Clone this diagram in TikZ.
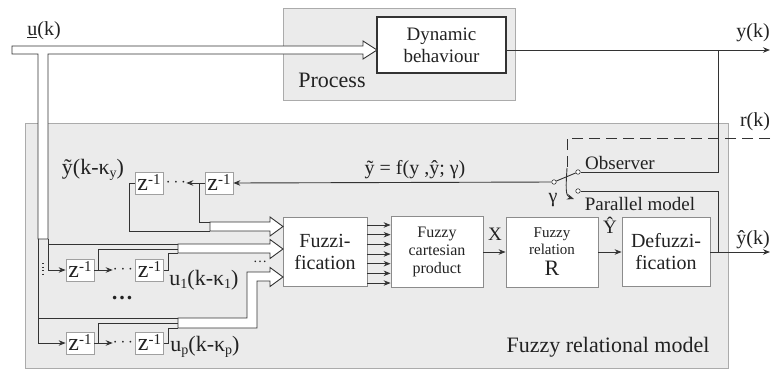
\documentclass[tikz,border=0pt]{standalone}
\usepackage{fontspec}
\setmainfont{Liberation Serif}
\usetikzlibrary{arrows.meta,calc}
\definecolor{ln}{HTML}{333333}
\definecolor{txt}{HTML}{222222}
\definecolor{gfill}{HTML}{EBEBEB}
\definecolor{gline}{HTML}{ABABAB}
\definecolor{bline}{HTML}{8C8C8C}
\definecolor{zline}{HTML}{A0A0A0}
\newcommand\mysub[1]{\raisebox{-0.35ex}{\fontsize{14}{14}\selectfont #1}}
\newcommand\mysup[1]{\raisebox{0.55ex}{\fontsize{15}{15}\selectfont #1}}
\begin{document}
\begin{tikzpicture}[x=1pt,y=-1pt,
  graybox/.style={draw=gline, fill=gfill, line width=0.8pt, anchor=north west, inner sep=0pt},
  wbox/.style={draw=bline, fill=white, line width=0.8pt, align=center, inner sep=0pt, text=txt},
  zbox/.style={draw=zline, fill=white, line width=0.7pt, minimum width=28pt, minimum height=22pt, inner sep=0pt, text=txt, font=\fontsize{24}{24}\selectfont},
  wire/.style={draw=ln, line width=0.9pt},
  arr/.style={wire, -{Stealth[length=7pt,width=5.5pt]}},
  bus/.style={draw=ln, fill=white, line width=0.9pt, line join=miter},
  lbl/.style={text=txt, inner sep=0pt},
  contact/.style={circle, draw=ln, fill=white, minimum size=4.5pt, inner sep=0pt, line width=0.6pt},
  dotsnode/.style={lbl, font=\fontsize{16}{16}\selectfont}
]
\useasboundingbox (0,0) rectangle (774,370);
\fill[white] (0,0) rectangle (774,370);

% gray regions
\node[graybox, minimum width=232pt, minimum height=92pt] (process) at (283,8) {};
\node[graybox, minimum width=703pt, minimum height=245pt] (frm) at (25,123) {};
\node[lbl, font=\fontsize{22}{22}\selectfont] (proclbl) at (332,80) {Process};
\node[lbl, font=\fontsize{22}{22}\selectfont] (frmlbl) at (608,347) {Fuzzy relational model};

% main blocks
\node[wbox, draw=ln, line width=1.1pt, minimum width=129pt, minimum height=56pt, font=\fontsize{19}{22}\selectfont] (dyn) at (441.5,45) {Dynamic\\behaviour};
\node[wbox, minimum width=84pt, minimum height=69pt, font=\fontsize{20}{22}\selectfont] (fuzz) at (325,252) {Fuzzi-\\fication};
\node[wbox, minimum width=92pt, minimum height=71pt, font=\fontsize{16}{18}\selectfont] (cart) at (437,252) {Fuzzy\\cartesian\\product};
\node[wbox, minimum width=92pt, minimum height=70pt, font=\fontsize{15}{17}\selectfont] (rel) at (552,252) {Fuzzy\\relation\\[4pt]{\fontsize{22}{22}\selectfont R}};
\node[wbox, minimum width=88pt, minimum height=69pt, font=\fontsize{20}{22}\selectfont] (defuzz) at (666,252) {Defuzzi-\\fication};

% delay blocks
\node[zbox] (zy1) at (149,183) {z\mysup{-1}};
\node[zbox] (zy2) at (219,183) {z\mysup{-1}};
\node[zbox] (zu11) at (80,270) {z\mysup{-1}};
\node[zbox] (zu12) at (149.5,270) {z\mysup{-1}};
\node[zbox] (zup1) at (80,343) {z\mysup{-1}};
\node[zbox] (zup2) at (149.5,343) {z\mysup{-1}};
\node[dotsnode] (ydots) at (176,183) {$\cdots$};
\node[dotsnode] (u1dots) at (123,270) {$\cdots$};
\node[dotsnode] (updots) at (123,343) {$\cdots$};

% switch
\node[contact] (pivot) at (554,182) {};
\node[contact] (obsc) at (578,172) {};
\node[contact] (parc) at (578,191) {};

% coordinates
\coordinate (yj) at (718,50);
\coordinate (yend) at (770,50);
\coordinate (yhj) at (718,252);
\coordinate (yhend) at (770,252);
\coordinate (rend) at (770,138);
\coordinate (rk1) at (567,138);
\coordinate (rk2) at (567,168);
\coordinate (ybusT) at (210,222);
\coordinate (ybusB) at (210,231);
\coordinate (u1busT) at (178,244);
\coordinate (u1busM) at (178,249);
\coordinate (u1busB) at (178,253);
\coordinate (upbusT) at (178,318);
\coordinate (upbusM) at (178,323);
\coordinate (upbusB) at (178,328);

% input bus u(k)
\draw[bus] (12,46) -- (363,46) -- (363,41) -- (377,50) -- (363,59) -- (363,54) -- (48,54) -- (48,239) -- (38,239) -- (38,54) -- (12,54) -- cycle;

% hollow bus arrows into fuzzification
\draw[bus] (ybusT) -- (270,222) -- (270,217) -- (283,226.5) -- (270,236) -- (270,231) -- (ybusB) -- cycle;
\draw[bus] (u1busT) -- (270,244) -- (270,239.5) -- (283,249) -- (270,258.5) -- (270,253) -- (u1busB) -- cycle;
\draw[bus] (upbusT) -- (247,318) -- (247,272) -- (270,272) -- (270,267.5) -- (283,277) -- (270,286.5) -- (270,281) -- (257,281) -- (257,328) -- (upbusB) -- cycle;

% u lines
\draw[arr] (48,239) |- (zu11.west);
\draw[arr] (38,239) |- (zup1.west);
\draw[wire] (48,244) -- (u1busT);
\draw[wire] (38,318) -- (upbusT);
\draw[arr] (zu11.east) -- (u1dots.west);
\draw[arr] (zup1.east) -- (updots.west);
\draw[wire] (zu11.east) -- ++(4,0) |- (u1busM);
\draw[wire] (zu12.east) -- ++(5,0) |- (u1busB);
\draw[wire] (zup1.east) -- ++(4,0) |- (upbusM);
\draw[wire] (zup2.east) -- ++(5,0) |- (upbusB);
\draw[ln, line width=1.2pt, dash pattern=on 1.2pt off 2.3pt] (43,263) -- (43,276);

% y feedback
\draw[arr] (pivot) -- (zy2.east);
\draw[arr] (zy2.west) -- (ydots.east);
\draw[wire] (zy2.west) -- ++(-5,0) |- (ybusT);
\draw[wire] (zy1.west) -- ++(-5,0) |- (ybusB);

% fuzzy chain
\foreach \i in {0,...,6}{
  \draw[arr] ($(fuzz.east)+(0,{-27+\i*9.67})$) -- ($(cart.west)+(0,{-27+\i*9.67})$);
}
\draw[arr] (cart) -- (rel);
\draw[arr] (rel) -- (defuzz);
\draw[arr] (defuzz) -- (yhend);

% process output and switch
\draw[arr] (dyn.east |- yj) -- (yend);
\draw[wire] (yj) |- (obsc);
\draw[wire] (parc) -| (yhj);
\draw[wire] (pivot) -- (obsc);
\draw[wire, dash pattern=on 11pt off 6pt] (rend) -- (rk1) -- (rk2);
\draw[arr] (rk2) .. controls (566,186) and (565,196) .. (574,199);

% labels
\node[lbl, font=\fontsize{20}{20}\selectfont] (ulbl) at (44,31) {\underline{u}(k)};
\node[lbl, font=\fontsize{20}{20}\selectfont] (ylbl) at (753,33) {y(k)};
\node[lbl, font=\fontsize{20}{20}\selectfont] (rlbl) at (755,122) {r(k)};
\node[lbl, font=\fontsize{20}{20}\selectfont] (yhlbl) at (753,240) {ŷ(k)};
\node[lbl, font=\fontsize{22}{22}\selectfont] (ytlbl) at (93,170) {ỹ(k-κ\mysub{y})};
\node[lbl, font=\fontsize{20}{20}\selectfont] (flbl) at (415,170) {ỹ = f(y ,ŷ; γ)};
\node[lbl, font=\fontsize{19}{19}\selectfont] (obslbl) at (620,163) {Observer};
\node[lbl, font=\fontsize{19}{19}\selectfont] (parlbl) at (640,204) {Parallel model};
\node[lbl, font=\fontsize{20}{20}\selectfont] (glbl) at (553,200) {γ};
\node[lbl, font=\fontsize{19}{19}\selectfont] (xlbl) at (495,234) {X};
\node[lbl, font=\fontsize{19}{19}\selectfont] (Ylbl) at (610,225) {Ŷ};
\node[lbl, font=\fontsize{22}{22}\selectfont] (u1lbl) at (204,280) {u\mysub{1}(k-κ\mysub{1})};
\node[lbl, font=\fontsize{22}{22}\selectfont] (uplbl) at (205,347) {u\mysub{p}(k-κ\mysub{p})};
\node[lbl, font=\fontsize{22}{22}\selectfont] (bigdots) at (122,298) {\textbf{…}};
\node[lbl, font=\fontsize{14}{14}\selectfont] (smdots) at (260,262) {…};
\end{tikzpicture}
\end{document}
